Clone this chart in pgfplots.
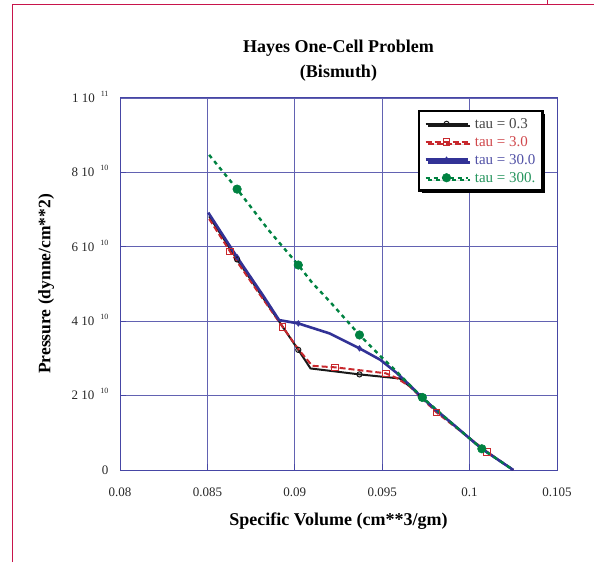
\documentclass[border=0pt]{standalone}
\usepackage{pgfplots}
\pgfplotsset{compat=1.18}
\usepackage{fontspec}
\setmainfont{Liberation Serif}
\usetikzlibrary{shadows}
\definecolor{frame}{RGB}{200,20,75}
\definecolor{gridblue}{RGB}{70,70,165}
\definecolor{sblack}{RGB}{25,25,25}
\definecolor{sred}{RGB}{200,40,45}
\definecolor{sblue}{RGB}{50,50,150}
\definecolor{sgreen}{RGB}{0,130,65}
\newcommand{\expo}[1]{\hspace{6pt}\smash{\raisebox{6pt}{\fontsize{8}{9}\selectfont #1}}}
\begin{document}
\begin{tikzpicture}[x=1pt,y=1pt]
\path[use as bounding box] (0,0) rectangle (594,562);
\draw[frame, line width=1.3pt] (12.5,0) -- (12.5,557.3) -- (594,557.3);
\draw[frame, line width=1pt] (547,557.3) -- (547,562);
\begin{axis}[
  at={(120pt,92pt)}, anchor=south west,
  scale only axis, width=437pt, height=372pt,
  xmin=0.08, xmax=0.105, ymin=0, ymax=1e11,
  xtick={0.08,0.085,0.09,0.095,0.1,0.105},
  xticklabels={0.08,0.085,0.09,0.095,0.1,0.105},
  scaled x ticks=false, scaled y ticks=false,
  ytick={0,2e10,4e10,6e10,8e10,1e11},
  yticklabels={0, 2 10\expo{10}, 4 10\expo{10}, 6 10\expo{10}, 8 10\expo{10}, 1 10\expo{11}},
  xtick pos=left, ytick pos=left,
  tick align=inside, major tick length=6pt,
  tick style={gridblue, line width=1pt},
  axis line style={gridblue, line width=1pt},
  grid=major, grid style={gridblue!85, line width=0.8pt},
  ticklabel style={font=\fontsize{13}{15}\selectfont, text=black!85},
  xticklabel style={yshift=-14pt},
  yticklabel style={xshift=-8pt},
  xlabel={Specific Volume (cm**3/gm)},
  ylabel={Pressure (dynne/cm**2)},
  xlabel style={at={(axis description cs:0.5,-0.137)}, anchor=center, font=\bfseries\fontsize{18}{21}\selectfont},
  ylabel style={at={(axis description cs:-0.169,0.5)}, anchor=center, font=\bfseries\fontsize{17.5}{21}\selectfont},
  title={Hayes One-Cell Problem\\(Bismuth)},
  title style={at={(axis description cs:0.5,1.085)}, anchor=center, align=center, font=\bfseries\fontsize{18}{25}\selectfont},
  legend image code/.code={\draw[#1] plot coordinates {(0pt,0pt) (21pt,0pt) (42pt,0pt)};},
  legend cell align=left,
  legend style={at={(rel axis cs:0.682,0.968)}, anchor=north west,
    draw=black, line width=2.4pt, fill=white,
    drop shadow={shadow xshift=2.5pt, shadow yshift=-2.5pt, fill=black, opacity=1},
    font=\fontsize{15}{17}\selectfont, inner sep=5pt, row sep=2.5pt,
    /tikz/every odd column/.append style={column sep=4pt}},
]
\addplot[sblack, line width=2pt, mark=o, mark size=2.6pt, mark options={solid, line width=1pt},
  mark indices={2,4,6,9,11}] coordinates {
 (0.0851,6.82e10) (0.0867,5.66e10) (0.0882,4.62e10) (0.0902,3.23e10) (0.0909,2.73e10)
 (0.0937,2.57e10) (0.0960,2.46e10) (0.0966,2.24e10) (0.0972,1.98e10) (0.0990,1.25e10)
 (0.1007,0.57e10) (0.1025,0)
};
\addlegendentry{\textcolor{sblack!80}{tau = 0.3}}
\addplot[sred, line width=2pt, dash pattern=on 6pt off 3pt, mark=square, mark size=3.3pt,
  mark options={solid, line width=0.9pt}, mark indices={2,4,7,8,11,13}] coordinates {
 (0.0851,6.75e10) (0.0863,5.87e10) (0.0878,4.85e10) (0.0893,3.85e10) (0.0902,3.25e10)
 (0.0910,2.80e10) (0.0923,2.76e10) (0.0952,2.60e10) (0.0958,2.48e10) (0.0966,2.24e10)
 (0.0981,1.55e10) (0.0990,1.22e10) (0.1010,0.49e10) (0.1025,0)
};
\addlegendentry{\textcolor{sred!85}{tau = 3.0}}
\addplot[sblue, line width=2.6pt, mark=diamond, mark size=2.6pt, mark options={solid, line width=0.9pt},
  mark indices={2,5,7,11,14}] coordinates {
 (0.08505,6.92e10) (0.0867,5.72e10) (0.0882,4.68e10) (0.0891,4.03e10) (0.0902,3.94e10)
 (0.0920,3.67e10) (0.0937,3.27e10) (0.0949,2.96e10) (0.0958,2.62e10) (0.0966,2.27e10)
 (0.0972,1.98e10) (0.0981,1.60e10) (0.0990,1.25e10) (0.1007,0.57e10) (0.1025,0)
};
\addlegendentry{\textcolor{sblue!85}{tau = 30.0}}
\addplot[sgreen, line width=2.4pt, dash pattern=on 4pt off 4pt, mark=*, mark size=4.3pt,
  mark options={solid, line width=0.5pt}, mark indices={2,4,7,11,13}] coordinates {
 (0.0851,8.47e10) (0.0867,7.55e10) (0.0885,6.45e10) (0.0902,5.51e10) (0.0910,5.03e10)
 (0.0920,4.53e10) (0.0937,3.63e10) (0.0949,3.06e10) (0.0958,2.66e10) (0.0966,2.27e10)
 (0.0973,1.95e10) (0.0990,1.25e10) (0.1007,0.57e10) (0.1025,0)
};
\addlegendentry{\textcolor{sgreen!85}{tau = 300.}}
\end{axis}
\end{tikzpicture}
\end{document}
